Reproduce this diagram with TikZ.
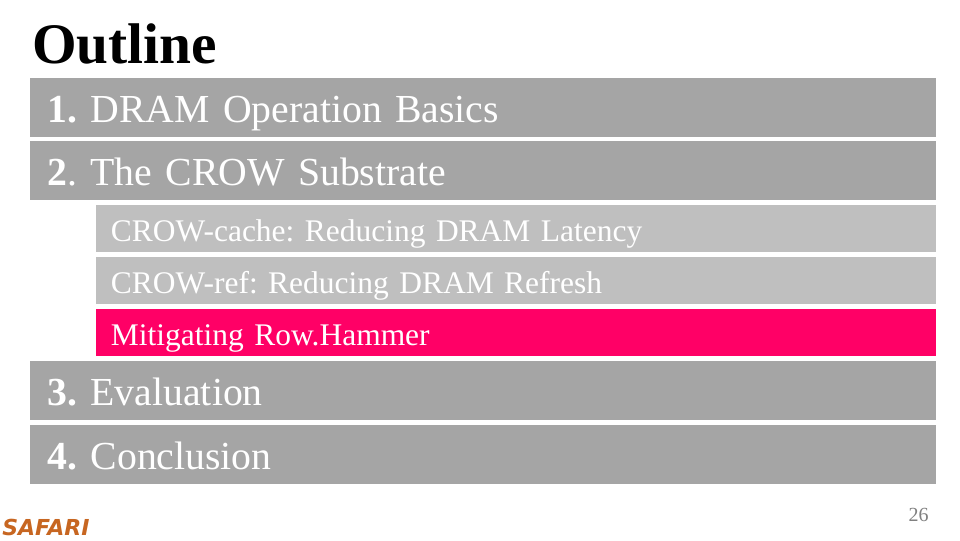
\documentclass[tikz,border=0pt]{standalone}
\usepackage{xcolor}
\usepackage{fontspec}
\setmainfont{Liberation Serif}
\newfontfamily\logofont{DejaVu Sans}
\frenchspacing

\begin{document}
\begin{tikzpicture}[x = {(0.75pt,0pt)},
                    y = {(0pt,-0.75pt)},
                    scale = 1]

  % COLORS
  \definecolor{barcolor_main}{rgb}{ 0.647,0.647,0.647 }
  \definecolor{barcolor_sub}{rgb}{ 0.749,0.749,0.749 }
  \definecolor{barcolor_now}{rgb}{ 1,0,0.4 }
  \definecolor{logocolor}{rgb}{ 0.78,0.40,0.13 }

  % BAR STYLES
  \tikzstyle{barstyle_main} = [anchor=north west, text width=653.5pt, inner xsep=13pt, inner ysep=0pt, text height=33.5pt, text depth=10.5pt, fill=barcolor_main, text=white, font=\fontsize{29.8}{30}\selectfont, align=left]
  \tikzstyle{barstyle_sub} = [anchor=north west, text width=608pt, inner xsep=11pt, inner ysep=0pt, text height=27.25pt, text depth=8pt, fill=barcolor_sub, text=white, font=\fontsize{23.6}{24}\selectfont, align=left]
  \tikzstyle{barstyle_now} = [barstyle_sub, fill=barcolor_now]

  % PAGE
  \useasboundingbox (0, 0) rectangle (960, 540);

  % TITLE
  \node[anchor=base west, inner sep=0pt, font=\fontsize{43}{43}\selectfont\bfseries] (title) at (32, 63) {Outline};

  % MAIN BARS
  \node[barstyle_main] (bar_basics) at (30, 78) {\textbf{1.} DRAM Operation Basics};
  \node[barstyle_main] (bar_substrate) at (30, 141) {\textbf{2}. The CROW Substrate};
  \node[barstyle_main] (bar_evaluation) at (30, 361) {\textbf{3.} Evaluation};
  \node[barstyle_main] (bar_conclusion) at (30, 425) {\textbf{4.} Conclusion};

  % SUB BARS
  \node[barstyle_sub] (sub_cache) at (96, 205) {CROW-cache: Reducing DRAM Latency};
  \node[barstyle_sub] (sub_ref) at (96, 257) {CROW-ref: Reducing DRAM Refresh};
  \node[barstyle_now] (sub_hammer) at (96, 309) {Mitigating Row.Hammer};

  % FOOTER
  \node[anchor=base west, inner sep=0pt, text=logocolor, font=\fontsize{16.5}{17}\logofont\bfseries\itshape] (logo) at (2, 535) {SAFARI};
  \node[anchor=base east, inner sep=0pt, text=black!50, font=\fontsize{15}{15}\selectfont] (page_num) at (929, 521) {26};

\end{tikzpicture}
\end{document}
